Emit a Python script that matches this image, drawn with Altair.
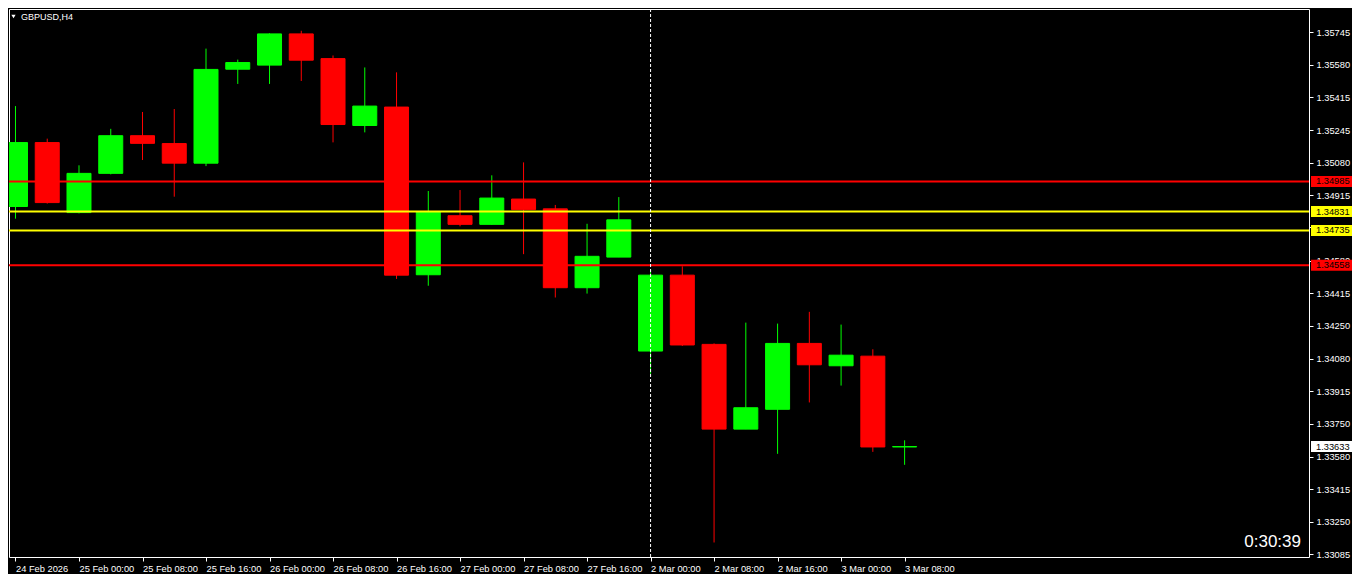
import altair as alt
import pandas as pd

W = 1300
H = 548

symbol_title = "GBPUSD,H4"
timer_text = "0:30:39"

bar_times = [
    "24 Feb 16:00", "24 Feb 20:00", "25 Feb 00:00", "25 Feb 04:00", "25 Feb 08:00",
    "25 Feb 12:00", "25 Feb 16:00", "25 Feb 20:00", "26 Feb 00:00", "26 Feb 04:00",
    "26 Feb 08:00", "26 Feb 12:00", "26 Feb 16:00", "26 Feb 20:00", "27 Feb 00:00",
    "27 Feb 04:00", "27 Feb 08:00", "27 Feb 12:00", "27 Feb 16:00", "27 Feb 20:00",
    "2 Mar 00:00", "2 Mar 04:00", "2 Mar 08:00", "2 Mar 12:00", "2 Mar 16:00",
    "2 Mar 20:00", "3 Mar 00:00", "3 Mar 04:00", "3 Mar 08:00",
]
opens = [1.34857, 1.35183, 1.34826, 1.35026, 1.35218, 1.35178, 1.35078, 1.35557, 1.35578, 1.35737,
         1.35611, 1.35270, 1.35364, 1.34509, 1.34810, 1.34766, 1.34895, 1.34845, 1.34443, 1.34599,
         1.34120, 1.34507, 1.34154, 1.33722, 1.33823, 1.34159, 1.34045, 1.34094, 1.33631]
highs = [1.35369, 1.35203, 1.35067, 1.35253, 1.35339, 1.35354, 1.35662, 1.35606, 1.35740, 1.35753,
         1.35627, 1.35566, 1.35541, 1.34936, 1.34941, 1.35016, 1.35082, 1.34865, 1.34769, 1.34905,
         1.34537, 1.34552, 1.34159, 1.34265, 1.34260, 1.34320, 1.34255, 1.34129, 1.33665]
lows = [1.34795, 1.34872, 1.34822, 1.35021, 1.35094, 1.34907, 1.35063, 1.35482, 1.35482, 1.35497,
        1.35184, 1.35235, 1.34488, 1.34453, 1.34756, 1.34764, 1.34614, 1.34393, 1.34413, 1.34599,
        1.34004, 1.34146, 1.33144, 1.33722, 1.33596, 1.33858, 1.33944, 1.33606, 1.33540]
closes = [1.35183, 1.34877, 1.35026, 1.35218, 1.35179, 1.35078, 1.35556, 1.35591, 1.35737, 1.35603,
          1.35275, 1.35369, 1.34507, 1.34831, 1.34766, 1.34900, 1.34841, 1.34443, 1.34603, 1.34789,
          1.34507, 1.34151, 1.33722, 1.33831, 1.34159, 1.34050, 1.34099, 1.33631, 1.33633]

axis_labels = ["24 Feb 2026", "25 Feb 00:00", "25 Feb 08:00", "25 Feb 16:00", "26 Feb 00:00",
               "26 Feb 08:00", "26 Feb 16:00", "27 Feb 00:00", "27 Feb 08:00", "27 Feb 16:00",
               "2 Mar 00:00", "2 Mar 08:00", "2 Mar 16:00", "3 Mar 00:00", "3 Mar 08:00"]
axis_label_bars = [0, 2, 4, 6, 8, 10, 12, 14, 16, 18, 20, 22, 24, 26, 28]

price_ticks = [1.35745, 1.35580, 1.35415, 1.35245, 1.35080, 1.34915, 1.34750, 1.34580, 1.34415,
               1.34250, 1.34080, 1.33915, 1.33750, 1.33580, 1.33415, 1.33250, 1.33085]

level_prices = [1.34985, 1.34831, 1.34735, 1.34558]
level_colors = ["#FF0000", "#FFFF00", "#FFFF00", "#FF0000"]

tag_prices = [1.34985, 1.34831, 1.34735, 1.34558, 1.33633]
tag_colors = ["#FF0000", "#FFFF00", "#FFFF00", "#FF0000", "#FFFFFF"]

separator_bar = 20

UP = "#00FF00"
DOWN = "#FF0000"
FONT = "Liberation Sans"

df = pd.DataFrame({
    "idx": list(range(len(opens))),
    "time": bar_times,
    "open": opens, "high": highs, "low": lows, "close": closes,
})
df["top"] = df[["open", "close"]].max(axis=1)
df["bot"] = df[["open", "close"]].min(axis=1)
df["col"] = [UP if c >= o else DOWN for o, c in zip(opens, closes)]

Y_LO, Y_HI = 1.33070, 1.35864
xscale = alt.Scale(domain=[-0.046875, 40.578125], nice=False, zero=False)
yscale = alt.Scale(domain=[Y_LO, Y_HI], nice=False, zero=False)

label_expr = "[" + ",".join("'%s'" % s for s in axis_labels) + "][round(datum.value/2)]"
x_axis = alt.Axis(values=axis_label_bars, labelExpr=label_expr, labelAlign="left",
                  labelBaseline="top", labelPadding=3, tickSize=4, labelFlush=False,
                  labelOverlap=False, title=None, grid=False, domain=False)
y_axis = alt.Axis(orient="right", values=price_ticks, format=".5f", tickSize=4,
                  labelPadding=3, labelFlush=False, labelOverlap=False, title=None,
                  grid=False, domain=False, labelBound=False)


def Yq(field):
    return alt.Y(field, scale=yscale, axis=y_axis)


X = alt.X("idx:Q", scale=xscale, axis=x_axis)

wicks = alt.Chart(df).mark_rule(strokeWidth=1, clip=True).encode(
    x=X, y=Yq("low:Q"), y2="high:Q",
    color=alt.Color("col:N", scale=None),
)
bodies = alt.Chart(df).mark_bar(size=24, strokeWidth=1, clip=True).encode(
    x=X, y=Yq("bot:Q"), y2="top:Q",
    color=alt.Color("col:N", scale=None),
    stroke=alt.Color("col:N", scale=None),
)

lv = pd.DataFrame({"price": level_prices, "col": level_colors})
levels = alt.Chart(lv).mark_rule(strokeWidth=2).encode(
    y=Yq("price:Q"),
    color=alt.Color("col:N", scale=None),
)

sep = alt.Chart(pd.DataFrame({"idx": [separator_bar]})).mark_rule(
    strokeWidth=1, strokeDash=[3, 2], color="#FFFFFF").encode(x=X)

tg = pd.DataFrame({"price": tag_prices, "col": tag_colors,
                   "txt": ["%.5f" % p for p in tag_prices]})
half = 5.5 * (Y_HI - Y_LO) / H
tag_boxes = alt.Chart(tg).transform_calculate(
    t="datum.price + %f" % half, b="datum.price - %f" % half
).mark_rect(clip=False).encode(
    x=alt.value(W + 2), x2=alt.value(W + 43),
    y=Yq("t:Q"), y2="b:Q",
    color=alt.Color("col:N", scale=None),
)
tag_text = alt.Chart(tg).mark_text(align="left", baseline="middle", font=FONT, fontSize=9.3,
                                   color="#000000", clip=False).encode(
    x=alt.value(W + 7),
    y=Yq("price:Q"),
    text="txt:N",
)

title_df = pd.DataFrame({"t": [symbol_title]})
title_text = alt.Chart(title_df).mark_text(align="left", baseline="middle", font=FONT,
                                           fontSize=9, color="#FFFFFF").encode(
    x=alt.value(12), y=alt.value(8), text="t:N")
tri = alt.Chart(title_df).mark_point(shape="triangle-down", filled=True, size=18,
                                     color="#FFFFFF", opacity=1).encode(
    x=alt.value(4.5), y=alt.value(7.5))

timer = alt.Chart(pd.DataFrame({"t": [timer_text]})).mark_text(
    align="right", baseline="alphabetic", font=FONT, fontSize=17, color="#FFFFFF").encode(
    x=alt.value(W - 8), y=alt.value(H - 10), text="t:N")

chart = alt.layer(wicks, bodies, levels, sep, tag_boxes, tag_text, title_text, tri, timer).properties(
    width=W, height=H, padding=0, background="#000000"
).configure_view(
    stroke="#FFFFFF", strokeWidth=1, fill="#000000"
).configure_axis(
    labelColor="#FFFFFF", tickColor="#FFFFFF", domainColor="#FFFFFF",
    labelFont=FONT, labelFontSize=9.3, grid=False,
)

chart.save("out.html", embed_options={"renderer": "svg", "actions": False})
